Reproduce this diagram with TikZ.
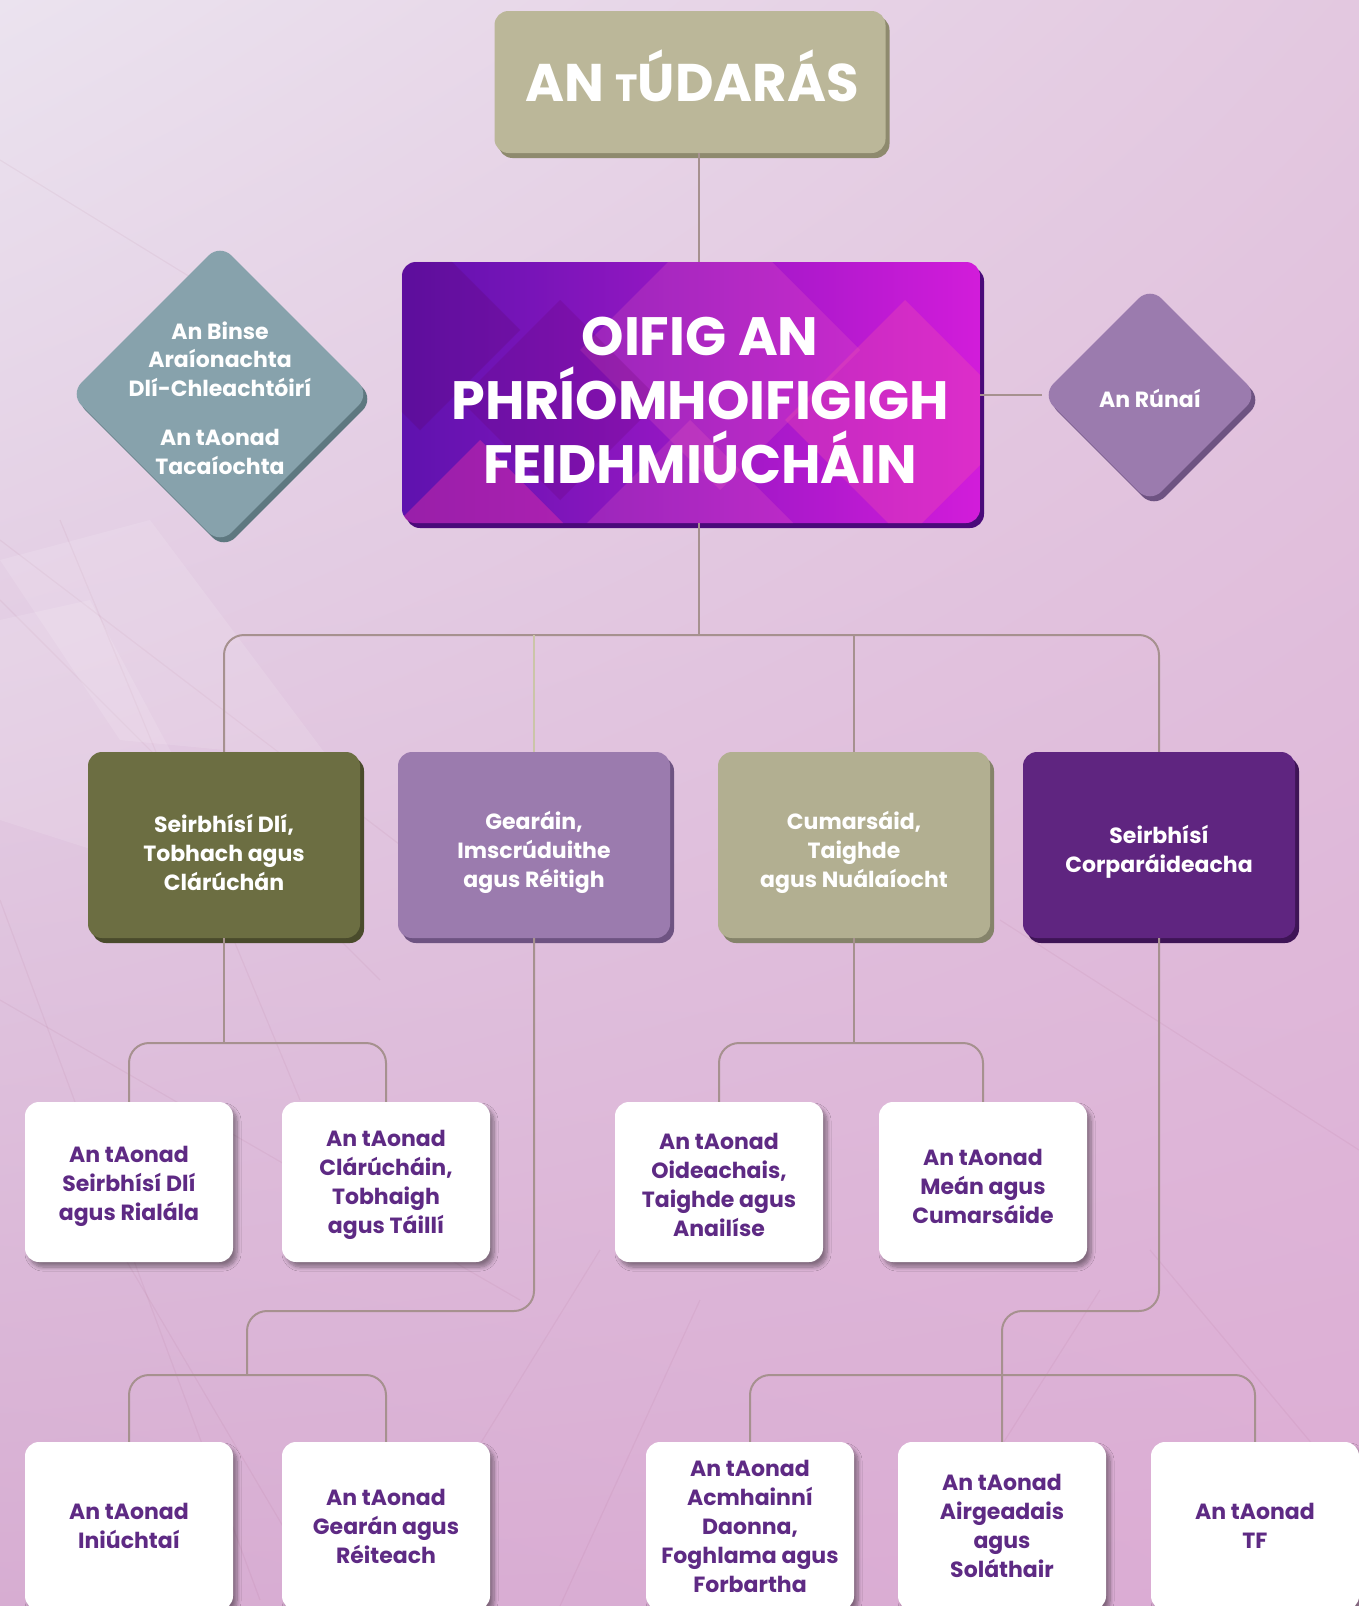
\documentclass[tikz,border=0pt]{standalone}
\usepackage{fontspec}
\setmainfont{Poppins}
\usetikzlibrary{shapes.geometric,shadows,shadows.blur,shadings,calc}
\definecolor{bgTL}{HTML}{EBE3EF}
\definecolor{bgTR}{HTML}{E3C8E0}
\definecolor{bgBL}{HTML}{D7ADD2}
\definecolor{bgBR}{HTML}{DCACD4}
\definecolor{connc}{HTML}{A6918F}
\definecolor{connlight}{HTML}{CBC5A8}
\definecolor{khaki}{HTML}{BBB799}
\definecolor{khakiS}{HTML}{8E8A6E}
\definecolor{olive}{HTML}{6C6E42}
\definecolor{oliveS}{HTML}{4A4B2C}
\definecolor{lilac}{HTML}{9B7BAE}
\definecolor{lilacS}{HTML}{6E5382}
\definecolor{sand}{HTML}{B2AF91}
\definecolor{sandS}{HTML}{85836A}
\definecolor{plum}{HTML}{5F2580}
\definecolor{plumS}{HTML}{3E1456}
\definecolor{slate}{HTML}{87A2AC}
\definecolor{slateS}{HTML}{5E7880}
\definecolor{unittext}{HTML}{5E2A84}
\definecolor{violetL}{HTML}{5E12AE}
\definecolor{magentaR}{HTML}{D21CDA}
\definecolor{ceoS}{HTML}{4A0A7A}
\begin{document}
\begin{tikzpicture}[x=1pt,y=-1pt,
  conn/.style={draw=connc, line width=2pt, rounded corners=20pt},
  box/.style={rectangle, rounded corners=14pt, inner sep=0pt, align=center, text=white,
    font=\fontsize{22}{29}\selectfont\bfseries},
  sh/.style={drop shadow={shadow xshift=4pt, shadow yshift=-5pt, opacity=1, fill=#1}},
  lvltwo/.style={box, minimum width=272pt, minimum height=186pt},
  lbl/.style={text=white, align=center, font=\fontsize{22}{29}\selectfont\bfseries},
  unit/.style={box, fill=white, text=unittext, minimum width=208pt, minimum height=160pt,
    blur shadow={shadow xshift=4pt, shadow yshift=-5pt, shadow blur radius=4pt, shadow blur steps=8, shadow opacity=40}},
  unitb/.style={unit, minimum height=168pt},
  utext/.style={text=unittext, align=center, font=\fontsize{22}{29}\selectfont\bfseries},
  dia/.style={diamond, inner sep=0pt, rounded corners=16pt},
  diatext/.style={text=white, align=center, font=\fontsize{22}{28.6}\selectfont\bfseries},
  ceotext/.style={text=white, align=center, font=\fontsize{54}{64}\selectfont\bfseries},
]
\useasboundingbox (0,0) rectangle (1359,1606);
\shade[upper left=bgTL, upper right=bgTR, lower left=bgBL, lower right=bgBR] (0,0) rectangle (1359,1606);
% faint background texture
\begin{scope}[draw=purple!60!black, opacity=0.045, line width=1.2pt]
  \draw (0,540) -- (420,860);
  \draw (0,600) -- (380,980);
  \draw (60,520) -- (300,1100);
  \draw (0,900) -- (260,1600);
  \draw (120,1250) -- (330,1606);
  \draw (380,1606) -- (600,1250);
  \draw (560,1606) -- (700,1300);
  \draw (1000,920) -- (1359,1150);
  \draw (1150,1250) -- (1359,1500);
  \draw (900,1606) -- (1100,1290);
  \draw (0,1000) -- (520,1300);
  \draw (0,160) -- (260,320);
\end{scope}
\begin{scope}[fill=white, opacity=0.12]
  \fill (0,560) -- (150,520) -- (330,760) -- (120,740) -- cycle;
  \fill (0,620) -- (90,600) -- (250,900) -- (0,820) -- cycle;
\end{scope}

% ---- nodes ----
\node[box, fill=khaki, sh=khakiS, minimum width=391pt, minimum height=142pt] (auth) at (690,82) {};
\node[text=white, font=\fontsize{53}{60}\selectfont\bfseries] (autht) at (692,76)
      {AN {\fontsize{38}{40}\selectfont T}ÚDARÁS};

\node[box, left color=violetL, right color=magentaR, sh=ceoS,
      minimum width=578pt, minimum height=261pt] (ceo) at (691,392.5) {};
\begin{scope}
  \clip[rounded corners=14pt] (ceo.south west) rectangle (ceo.north east);
  \fill[fill=magenta!80!white, opacity=0.4] (480,440) -- (600,560) -- (480,680) -- (360,560) -- cycle;
  \fill[fill=magenta!60!white, opacity=0.22] (720,210) -- (860,350) -- (720,490) -- (580,350) -- cycle;
  \fill[fill=magenta!70!white, opacity=0.35] (905,300) -- (1025,420) -- (905,540) -- (785,420) -- cycle;
  \fill[fill=violet!80!black, opacity=0.2] (560,300) -- (660,400) -- (560,500) -- (460,400) -- cycle;
  \fill[fill=violet!70!black, opacity=0.2] (420,230) -- (520,330) -- (420,430) -- (320,330) -- cycle;
  \fill[fill=magenta!60!white, opacity=0.22] (690,420) -- (800,530) -- (690,640) -- (580,530) -- cycle;
\end{scope}
\node[ceotext] (ceot) at (700,400) {OIFIG AN\\PHRÍOMHOIFIGIGH\\FEIDHMIÚCHÁIN};

\node[dia, fill=slate, sh=slateS, minimum width=300pt, minimum height=300pt] (binse) at (220,394) {};
\node[diatext] (binset) at (220,398) {An Binse\\Araíonachta\\Dlí-Chleachtóirí\\[21pt]An tAonad\\Tacaíochta};

\node[dia, fill=lilac, sh=lilacS, minimum width=216pt, minimum height=216pt] (rune) at (1150,395) {};
\node[diatext] (runet) at (1150,398) {An Rúnaí};

\node[lvltwo, fill=olive, sh=oliveS] (L2a) at (224,845) {};
\node[lbl] (L2at) at ($(L2a)+(0,7)$) {Seirbhísí Dlí,\\Tobhach agus\\Clárúchán};
\node[lvltwo, fill=lilac, sh=lilacS] (L2b) at (534,845) {};
\node[lbl] (L2bt) at ($(L2b)+(0,7)$) {Gearáin,\\Imscrúduithe\\agus Réitigh};
\node[lvltwo, fill=sand, sh=sandS] (L2c) at (854,845) {};
\node[lbl] (L2ct) at ($(L2c)+(0,7)$) {Cumarsáid,\\Taighde\\agus Nuálaíocht};
\node[lvltwo, fill=plum, sh=plumS] (L2d) at (1159,845) {};
\node[lbl] (L2dt) at ($(L2d)+(0,7)$) {Seirbhísí\\Corparáideacha};

\node[unit] (L3a) at (129,1182) {};
\node[utext] (L3at) at ($(L3a)+(0,4)$) {An tAonad\\Seirbhísí Dlí\\agus Rialála};
\node[unit] (L3b) at (386,1182) {};
\node[utext] (L3bt) at ($(L3b)+(0,3)$) {An tAonad\\Clárúcháin,\\Tobhaigh\\agus Táillí};
\node[unit] (L3c) at (719,1182) {};
\node[utext] (L3ct) at ($(L3c)+(0,3)$) {An tAonad\\Oideachais,\\Taighde agus\\Anailíse};
\node[unit] (L3d) at (983,1182) {};
\node[utext] (L3dt) at ($(L3d)+(0,4)$) {An tAonad\\Meán agus\\Cumarsáide};

\node[unitb] (L4a) at (129,1526) {An tAonad\\Iniúchtaí};
\node[unitb] (L4b) at (386,1526) {An tAonad\\Gearán agus\\Réiteach};
\node[unitb] (L4c) at (750,1526) {An tAonad\\Acmhainní\\Daonna,\\Foghlama agus\\Forbartha};
\node[unitb] (L4d) at (1002,1526) {An tAonad\\Airgeadais\\agus\\Soláthair};
\node[unitb] (L4e) at (1255,1526) {An tAonad\\TF};

% ---- connectors ----
\coordinate (jc) at (699,635);
\draw[conn] (auth.south -| jc) -- (ceo.north -| jc);
\draw[conn] (ceo.south -| jc) -- (jc);
\draw[conn] (rune.west -| ceo.east) -- (rune.west);
\draw[conn] (L2a.north) |- (jc) -| (L2d.north);
\draw[conn, draw=connlight] (L2b.north) -- (L2b.north |- jc);
\draw[conn] (L2c.north) -- (L2c.north |- jc);

\coordinate (j1) at (224,1043);
\draw[conn] (L2a.south) -- (j1);
\draw[conn] (L3a.north) |- (j1) -| (L3b.north);
\coordinate (j3) at (854,1043);
\draw[conn] (L2c.south) -- (j3);
\draw[conn] (L3c.north) |- (j3) -| (L3d.north);

\coordinate (k1a) at (247,1311);
\coordinate (k1) at (247,1375);
\draw[conn] (L2b.south) |- (k1a) -- (k1);
\draw[conn] (L4a.north) |- (k1) -| (L4b.north);

\coordinate (k2a) at (1002,1311);
\coordinate (k2) at (1002,1375);
\draw[conn] (L2d.south) |- (k2a) -- (L4d.north);
\draw[conn] (L4c.north) |- (k2) -| (L4e.north);
\end{tikzpicture}
\end{document}
